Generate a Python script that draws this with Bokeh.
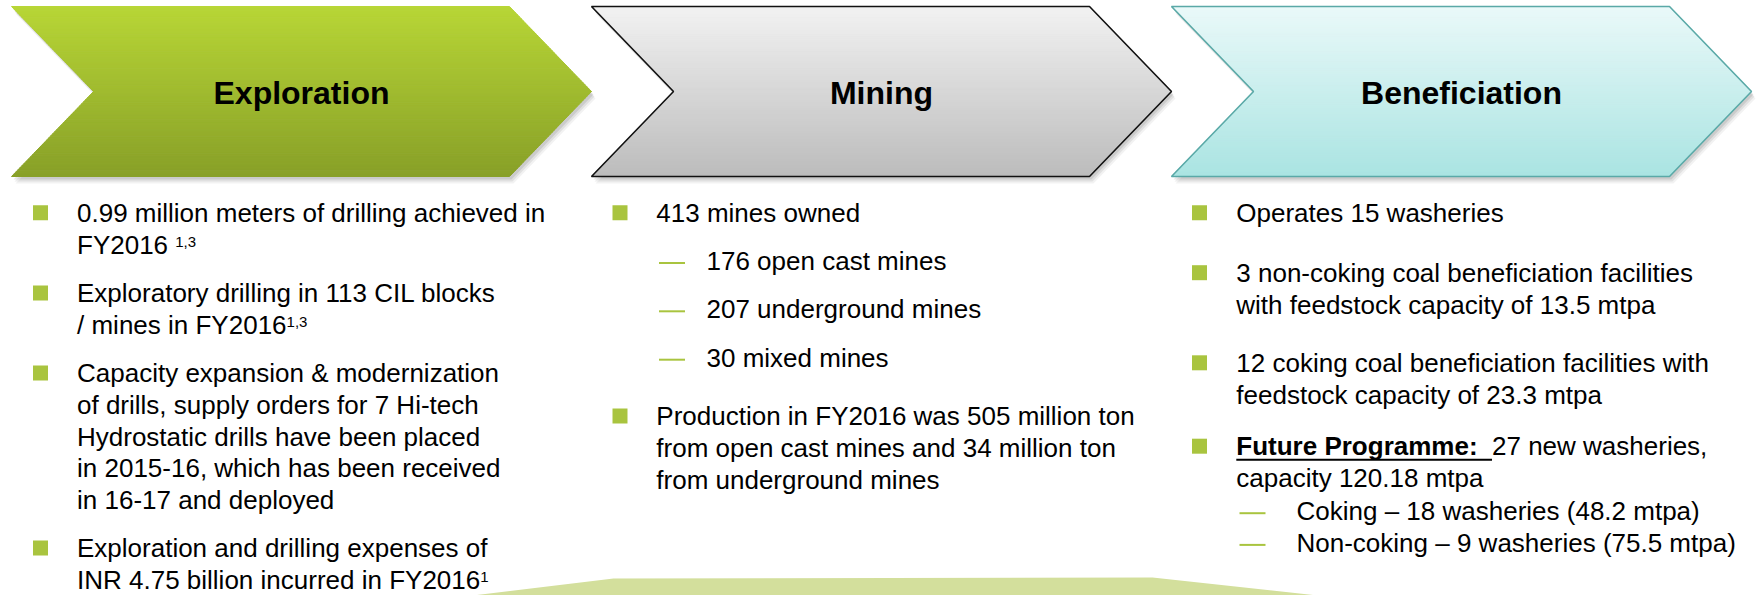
from bokeh.plotting import figure
from bokeh.models import Range1d, ColumnDataSource
from bokeh.core.properties import value
from bokeh.embed import file_html
from bokeh.resources import INLINE

# ---------------- content ----------------
STAGES = ["Exploration", "Mining", "Beneficiation"]

EXPLORATION = [
    ("bullet", ["0.99 million meters of drilling achieved in", "FY2016"]),
    ("bullet", ["Exploratory drilling in 113 CIL blocks", "/ mines in FY2016"]),
    ("bullet", ["Capacity expansion & modernization",
                "of drills, supply orders for 7 Hi-tech",
                "Hydrostatic drills have been placed",
                "in 2015-16, which has been received",
                "in 16-17 and deployed"]),
    ("bullet", ["Exploration and drilling expenses of",
                "INR 4.75 billion incurred in FY2016"]),
]
EXPLORATION_NOTES = [" 1,3", "1,3", "", "1"]

MINING = [
    ("bullet", ["413 mines owned"]),
    ("dash", ["176 open cast mines"]),
    ("dash", ["207 underground mines"]),
    ("dash", ["30 mixed mines"]),
    ("bullet", ["Production in FY2016 was 505 million ton",
                "from open cast mines and 34 million ton",
                "from underground mines"]),
]
MINING_NOTES = ["", "", "", "", ""]

BENEFICIATION = [
    ("bullet", ["Operates 15 washeries"]),
    ("bullet", ["3 non-coking coal beneficiation facilities",
                "with feedstock capacity of 13.5 mtpa"]),
    ("bullet", ["12 coking coal beneficiation facilities with",
                "feedstock capacity of 23.3 mtpa"]),
    ("bullet", [("Future Programme:  ", "27 new washeries,"),
                "capacity 120.18 mtpa"]),
    ("dash", ["Coking \u2013 18 washeries (48.2 mtpa)"]),
    ("dash", ["Non-coking \u2013 9 washeries (75.5 mtpa)"]),
]
BENEFICIATION_NOTES = ["", "", "", "", "", ""]

# ---------------- layout / style ----------------
FONT = "Liberation Sans"
BODY_SIZE = 26
TITLE_SIZE = 32
SUP_SIZE = 15
LINE = 31.7
BASE_K = 0.36   # svg text sits lower than its nominal baseline; compensate
# advance before each paragraph (first entry = first baseline)
EXP_ADV = [221.7, 48.5, 48.5, 48.0]
MIN_ADV = [221.7, 48.3, 48.3, 48.4, 58.3]
BEN_ADV = [221.7, 60.0, 58.4, 51.7, 33.3, 31.7]

# square x-center, text x, dash x0, sub-text x
COLS = [
    dict(sq=40.0, tx=76.5, dx=78.5, stx=126.0),
    dict(sq=619.5, tx=655.8, dx=658.5, stx=706.0),
    dict(sq=1199.0, tx=1235.8, dx=1239.0, stx=1296.0),
]

CHEV_X0 = [11, 591, 1171]
CHEV_W = 580
CHEV_DEPTH = 82
CHEV_TOP, CHEV_BOT = 6, 176
GRAD = [((184, 214, 54), (136, 160, 40)),
        ((242, 242, 242), (188, 188, 188)),
        ((234, 249, 249), (170, 228, 226))]
OUTLINE = [None, "#111111", "#5aa9a7"]

BULLET_COLOR = "#a9c43f"
BAND_COLOR = "#d3df9c"

REG = {' ': 278, '!': 278, '&': 667, '(': 333, ')': 333, ',': 278, '-': 333, '.': 278, '/': 278, ':': 278,
       'A': 667, 'B': 667, 'C': 722, 'D': 722, 'E': 667, 'F': 611, 'G': 778, 'H': 722, 'I': 278, 'J': 500,
       'K': 667, 'L': 556, 'M': 833, 'N': 722, 'O': 778, 'P': 667, 'Q': 778, 'R': 722, 'S': 667, 'T': 611,
       'U': 722, 'V': 667, 'W': 944, 'X': 667, 'Y': 667, 'Z': 611,
       'a': 556, 'b': 556, 'c': 500, 'd': 556, 'e': 556, 'f': 278, 'g': 556, 'h': 556, 'i': 222, 'j': 222,
       'k': 500, 'l': 222, 'm': 833, 'n': 556, 'o': 556, 'p': 556, 'q': 556, 'r': 333, 's': 500, 't': 278,
       'u': 556, 'v': 500, 'w': 722, 'x': 500, 'y': 500, 'z': 500, '\u2013': 556}
BOLD = {' ': 278, ':': 333, 'F': 611, 'P': 667, 'a': 556, 'e': 556, 'g': 611, 'm': 889, 'o': 611,
        'r': 389, 't': 333, 'u': 611}


def tw(s, size, bold=False):
    table = BOLD if bold else REG
    return sum(table.get(ch, 556) for ch in s) * size / 1000.0


def lerp(c0, c1, t):
    return "#%02x%02x%02x" % tuple(int(round(a + (b - a) * t)) for a, b in zip(c0, c1))


p = figure(width=1758, height=595, x_range=Range1d(0, 1758), y_range=Range1d(595, 0),
           output_backend="svg", toolbar_location=None, x_axis_location=None, y_axis_location=None,
           min_border=0, outline_line_color=None, background_fill_color="white",
           border_fill_color="white")
p.grid.visible = False

# bottom band (partially visible shape)
p.patch([431, 613, 1152, 1363], [600, 578, 577, 600], fill_color=BAND_COLOR, line_color=None)

# ---------------- chevrons ----------------
mid = (CHEV_TOP + CHEV_BOT) / 2.0
half = mid - CHEV_TOP


def chev_pts(x0):
    return ([x0, x0 + CHEV_W - CHEV_DEPTH, x0 + CHEV_W, x0 + CHEV_W - CHEV_DEPTH, x0, x0 + CHEV_DEPTH],
            [CHEV_TOP, CHEV_TOP, mid, CHEV_BOT, CHEV_BOT, mid])


for i, x0 in enumerate(CHEV_X0):
    ox, oy = chev_pts(x0)
    for dx, dy, a in [(4, 7, 0.05), (3, 5, 0.07), (2, 3, 0.09)]:
        p.patch([x + dx for x in ox], [y + dy for y in oy], fill_color="#000000",
                fill_alpha=a, line_color=None)

    def xl(y, x0=x0):
        return x0 + CHEV_DEPTH * (1 - abs(y - mid) / half)

    def xr(y, x0=x0):
        return x0 + CHEV_W - CHEV_DEPTH + CHEV_DEPTH * (1 - abs(y - mid) / half)

    n = 40
    xs, ys, cols = [], [], []
    edges = [CHEV_TOP + (mid - CHEV_TOP) * k / n for k in range(n)] + \
            [mid + (CHEV_BOT - mid) * k / n for k in range(n + 1)]
    for k in range(len(edges) - 1):
        y0, y1 = edges[k], edges[k + 1]
        xs.append([xl(y0), xr(y0), xr(y1), xl(y1)])
        ys.append([y0, y0, y1, y1])
        t = ((y0 + y1) / 2 - CHEV_TOP) / (CHEV_BOT - CHEV_TOP)
        cols.append(lerp(GRAD[i][0], GRAD[i][1], t))
    p.patches(xs, ys, fill_color=cols, line_color=cols, line_width=1)
    if OUTLINE[i]:
        p.patch(ox, oy, fill_alpha=0, line_color=OUTLINE[i], line_width=1.6)

p.text(x=[(x0 + x0 + CHEV_W) / 2.0 for x0 in CHEV_X0],
       y=[104 - BASE_K * TITLE_SIZE] * 3, text=STAGES,
       text_font=value(FONT), text_font_style="bold", text_font_size="%dpx" % TITLE_SIZE,
       text_color="#000000", text_align="center", text_baseline="alphabetic")

# ---------------- bullets ----------------
reg = dict(x=[], y=[], text=[])
bold = dict(x=[], y=[], text=[])
sup = dict(x=[], y=[], text=[])
sq = dict(x=[], y=[])
dash = dict(x0=[], y0=[], x1=[], y1=[])
ul = dict(x0=[], y0=[], x1=[], y1=[])
dy_body = BASE_K * BODY_SIZE
dy_sup = BASE_K * SUP_SIZE

for col, items, notes, adv in [(COLS[0], EXPLORATION, EXPLORATION_NOTES, EXP_ADV),
                                (COLS[1], MINING, MINING_NOTES, MIN_ADV),
                                (COLS[2], BENEFICIATION, BENEFICIATION_NOTES, BEN_ADV)]:
    y = 0.0
    for (kind, lines), note, a in zip(items, notes, adv):
        y += a
        if kind == "bullet":
            sq["x"].append(col["sq"])
            sq["y"].append(y - 9.5)
            x = col["tx"]
        else:
            dash["x0"].append(col["dx"])
            dash["x1"].append(col["dx"] + 26)
            dash["y0"].append(y - 7.5)
            dash["y1"].append(y - 7.5)
            x = col["stx"]
        for j, line in enumerate(lines):
            if j > 0:
                y += LINE
            if isinstance(line, tuple):
                b, r = line
                bw = tw(b, BODY_SIZE, bold=True)
                bold["x"].append(x); bold["y"].append(y - dy_body); bold["text"].append(b.rstrip())
                ul["x0"].append(x); ul["x1"].append(x + bw)
                ul["y0"].append(y + 4.0); ul["y1"].append(y + 4.0)
                reg["x"].append(x + bw); reg["y"].append(y - dy_body); reg["text"].append(r)
            else:
                reg["x"].append(x); reg["y"].append(y - dy_body); reg["text"].append(line)
        if note:
            last = lines[-1]
            sx = x + tw(last, BODY_SIZE) + (tw(" ", BODY_SIZE) if note.startswith(" ") else 0)
            sup["x"].append(sx); sup["y"].append(y - 7 - dy_sup); sup["text"].append(note.strip())

p.scatter("x", "y", source=ColumnDataSource(sq), marker="square", size=15,
          fill_color=BULLET_COLOR, line_color=None)
p.segment("x0", "y0", "x1", "y1", source=ColumnDataSource(dash), line_color=BULLET_COLOR,
          line_width=2)
p.segment("x0", "y0", "x1", "y1", source=ColumnDataSource(ul), line_color="#000000",
          line_width=2)
p.text("x", "y", text="text", source=ColumnDataSource(reg), text_font=value(FONT),
       text_font_size="%dpx" % BODY_SIZE, text_color="#000000", text_align="left",
       text_baseline="alphabetic")
p.text("x", "y", text="text", source=ColumnDataSource(bold), text_font=value(FONT),
       text_font_style="bold", text_font_size="%dpx" % BODY_SIZE, text_color="#000000",
       text_align="left", text_baseline="alphabetic")
p.text("x", "y", text="text", source=ColumnDataSource(sup), text_font=value(FONT),
       text_font_size="%dpx" % SUP_SIZE, text_color="#000000", text_align="left",
       text_baseline="alphabetic")

open("out.html", "w").write(file_html(p, INLINE))
